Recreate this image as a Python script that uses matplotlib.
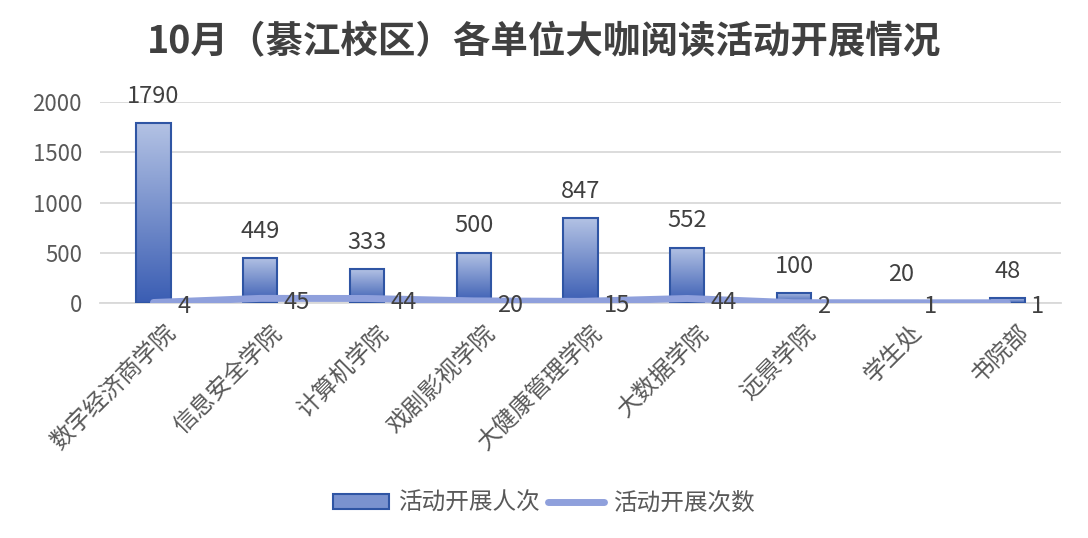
import matplotlib
matplotlib.use("Agg")
import matplotlib.pyplot as plt
import matplotlib.transforms as mtransforms
import numpy as np
from matplotlib.colors import LinearSegmentedColormap
from matplotlib.patches import Patch
from matplotlib.lines import Line2D

plt.rcParams['font.family'] = ['Noto Sans CJK SC', 'DejaVu Sans']

units = ['数字经济商学院', '信息安全学院', '计算机学院', '戏剧影视学院', '大健康管理学院',
         '大数据学院', '远景学院', '学生处', '书院部']
people = [1790, 449, 333, 500, 847, 552, 100, 20, 48]
times = [4, 45, 44, 20, 15, 44, 2, 1, 1]

title = '10月（綦江校区）各单位大咖阅读活动开展情况'

fig = plt.figure(figsize=(10.88, 5.38), dpi=100)
ax = fig.add_axes([0.092, 0.437, 0.883, 0.373])

x = np.arange(len(units))
w = 0.32
grad = LinearSegmentedColormap.from_list('g', ['#3A5DB3', '#B3C2E4'])
bars = ax.bar(x, people, width=w, facecolor='none', edgecolor='#2F55A4', linewidth=1.5, zorder=3)
img = np.linspace(0, 1, 256).reshape(-1, 1)
for b in bars:
    x0, y0 = b.get_x(), b.get_y()
    bw, bh = b.get_width(), b.get_height()
    im = ax.imshow(img, cmap=grad, origin='lower', aspect='auto',
                   extent=[x0, x0 + bw, y0, y0 + bh], zorder=2)
    im.set_clip_path(b)

for xi, v in zip(x, people):
    ax.annotate(str(v), (xi, v), xytext=(0, 11), textcoords='offset points',
                ha='center', va='bottom', fontsize=17, color='#404040')

ax.plot(x, times, color='#8FA0DC', linewidth=5, solid_joinstyle='round',
        solid_capstyle='round', zorder=4)
for xi, v in zip(x, times):
    ax.annotate(str(v), (xi, v), xytext=(17, -3), textcoords='offset points',
                ha='left', va='center', fontsize=17, color='#404040', zorder=5)

ax.set_xlim(-0.5, len(units) - 0.5)
ax.set_ylim(0, 2000)
ax.set_yticks([0, 500, 1000, 1500, 2000])
ax.yaxis.grid(True, color='#D9D9D9', linewidth=1.3)
ax.set_axisbelow(True)
for s in ['top', 'right', 'left']:
    ax.spines[s].set_visible(False)
ax.spines['bottom'].set_color('#D9D9D9')
ax.spines['bottom'].set_linewidth(1.3)
ax.tick_params(axis='both', length=0, colors='#595959')
ax.tick_params(axis='y', labelsize=16, pad=13)
ax.set_xticks(x)
ax.set_xticklabels(units, rotation=45, ha='right', rotation_mode='anchor', fontsize=17)
ax.tick_params(axis='x', pad=13)
shift = mtransforms.ScaledTranslation(0.10, 0, fig.dpi_scale_trans)
for lab in ax.get_xticklabels():
    lab.set_transform(lab.get_transform() + shift)

fig.text(0.5, 0.922, title, ha='center', va='center', fontsize=27, fontweight='bold', color='#404040')

handles = [Patch(facecolor='#7A92CF', edgecolor='#2F55A4', linewidth=1.5),
           Line2D([0], [0], color='#8FA0DC', linewidth=5, solid_capstyle='round')]
fig.legend(handles, ['活动开展人次', '活动开展次数'], loc='center', bbox_to_anchor=(0.5, 0.065),
           ncol=2, frameon=False, fontsize=17, labelcolor='#595959',
           handlelength=2.4, handleheight=0.6, handletextpad=0.4, columnspacing=0.3)

fig.savefig('out.png', dpi=100)
